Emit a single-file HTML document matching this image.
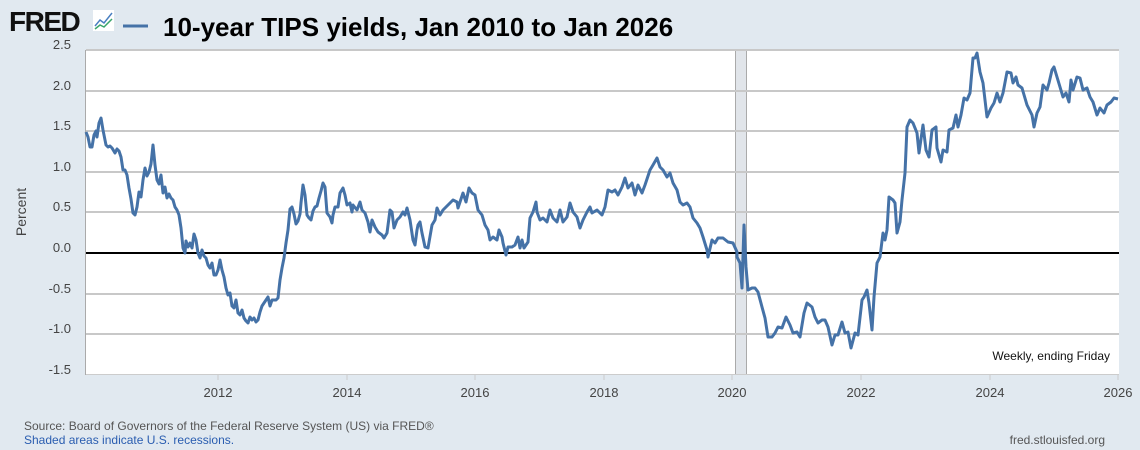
<!DOCTYPE html>
<html><head><meta charset="utf-8"><style>
body{margin:0;background:#e1e9f0;width:1140px;height:450px;overflow:hidden;font-family:"Liberation Sans",sans-serif}
</style></head><body>
<svg width="1140" height="450" xmlns="http://www.w3.org/2000/svg" style="position:absolute;left:0;top:0">
<rect width="1140" height="450" fill="#e1e9f0"/>
<text x="9" y="31" font-family="Liberation Sans" font-weight="bold" font-size="28" fill="#111" letter-spacing="-1.5">FRED</text>
<rect x="93" y="10" width="21" height="21" fill="#fff"/>
<polyline points="95,26 100,20 104,23 112,13" fill="none" stroke="#4a7fc1" stroke-width="1.5"/>
<polyline points="95,29 100,25 104,27 112,19" fill="none" stroke="#3aa56b" stroke-width="1.5"/>
<line x1="123" y1="26" x2="148" y2="26" stroke="#4572a7" stroke-width="3"/>
<text x="163" y="36" font-weight="bold" font-size="26" fill="#000">10-year TIPS yields, Jan 2010 to Jan 2026</text>
<rect x="86" y="50" width="1033" height="324" fill="#fff"/>
<rect x="735" y="50" width="11" height="324" fill="#e1e5ea"/>
<line x1="735.5" y1="50" x2="735.5" y2="374" stroke="#aaa"/>
<line x1="746.5" y1="50" x2="746.5" y2="374" stroke="#aaa"/>
<g stroke="#c8c8c8" stroke-width="2">
<line x1="86" y1="50" x2="1119" y2="50"/>
<line x1="86" y1="91" x2="1119" y2="91"/>
<line x1="86" y1="131" x2="1119" y2="131"/>
<line x1="86" y1="172" x2="1119" y2="172"/>
<line x1="86" y1="212" x2="1119" y2="212"/>
<line x1="86" y1="294" x2="1119" y2="294"/>
<line x1="86" y1="334" x2="1119" y2="334"/>
</g>
<line x1="85.5" y1="50" x2="85.5" y2="375" stroke="#aaa"/>
<line x1="86" y1="374.5" x2="1119" y2="374.5" stroke="#ccc"/>
<g stroke="#ccc"><line x1="218" y1="375" x2="218" y2="380"/><line x1="347" y1="375" x2="347" y2="380"/><line x1="475" y1="375" x2="475" y2="380"/><line x1="604" y1="375" x2="604" y2="380"/><line x1="732" y1="375" x2="732" y2="380"/><line x1="861" y1="375" x2="861" y2="380"/><line x1="990" y1="375" x2="990" y2="380"/><line x1="1118" y1="375" x2="1118" y2="380"/></g>
<line x1="86" y1="253" x2="1119" y2="253" stroke="#000" stroke-width="2"/>
<g font-size="13" fill="#444" text-anchor="end">
<text x="71" y="49">2.5</text><text x="71" y="90">2.0</text><text x="71" y="130">1.5</text><text x="71" y="171">1.0</text><text x="71" y="211">0.5</text><text x="71" y="252">0.0</text><text x="71" y="293">-0.5</text><text x="71" y="333">-1.0</text><text x="71" y="374">-1.5</text>
</g>
<text transform="translate(26,212) rotate(-90)" font-size="14" fill="#444" text-anchor="middle">Percent</text>
<g font-size="13" fill="#444" text-anchor="middle">
<text x="218" y="397">2012</text><text x="347" y="397">2014</text><text x="475" y="397">2016</text><text x="604" y="397">2018</text><text x="732" y="397">2020</text><text x="861" y="397">2022</text><text x="990" y="397">2024</text><text x="1118" y="397">2026</text>
</g>
<text x="1110" y="360" font-size="12" fill="#111" text-anchor="end">Weekly, ending Friday</text>
<polyline fill="none" stroke="#4572a7" stroke-width="3" stroke-linejoin="round" points="86,132 88,137 90,147 92,147 94,135 96,131 97,137 99,123 101,118 103,130 106,145 108,147 110,146 112,148 115,153 117,149 119,151 121,157 123,170 125,170 127,175 129,188 131,199 133,213 135,215 137,207 139,192 141,197 143,180 145,168 147,176 149,172 151,164 153,145 155,165 157,180 159,184 161,175 163,193 165,187 167,198 169,194 171,198 173,200 175,207 177,210 179,215 181,228 183,248 185,253 186,241 188,247 190,243 192,248 194,234 196,240 198,253 200,258 202,250 204,256 206,258 208,265 210,268 212,263 214,275 216,275 218,270 220,260 222,270 224,277 226,288 228,295 230,293 232,306 234,308 236,300 238,313 240,315 242,310 244,318 246,321 248,323 250,317 252,320 254,318 256,322 258,320 260,312 262,306 264,303 266,300 268,297 270,306 272,300 274,300 276,300 278,298 280,280 282,268 284,258 286,243 288,230 290,209 292,207 294,214 296,224 298,221 300,214 301,203 303,185 305,195 307,215 309,218 311,220 313,211 315,207 317,206 319,198 321,191 323,183 325,187 327,213 330,217 332,223 333,215 335,207 338,207 340,193 343,188 345,195 347,205 350,203 352,212 353,205 357,210 360,202 362,210 365,213 368,222 370,232 372,220 375,227 378,232 382,235 384,238 387,233 390,210 392,212 394,228 397,220 400,217 403,212 405,215 407,208 410,220 413,240 415,245 417,230 418,225 420,222 422,233 425,247 428,248 432,225 435,220 437,208 440,215 443,210 448,205 453,200 457,202 458,208 463,193 466,202 469,188 472,193 475,195 478,210 482,215 485,225 488,230 490,240 493,237 497,240 499,230 502,237 503,243 506,255 508,247 512,247 515,245 518,237 520,248 522,240 524,248 528,242 530,218 533,212 536,202 537,212 540,220 543,218 547,222 550,210 553,218 557,222 560,210 563,222 567,217 570,203 573,212 577,217 580,228 583,220 587,212 590,207 592,213 597,210 602,215 605,207 608,190 612,192 615,190 618,195 622,187 625,178 628,188 632,183 635,195 638,185 642,193 645,185 650,170 653,165 657,158 660,167 663,170 667,177 670,173 673,183 677,190 680,202 683,205 687,203 690,207 693,218 697,223 700,228 703,237 707,250 708,257 712,240 715,243 718,238 723,238 728,242 733,243 737,252 737,257 740,263 742,288 744,225 746,267 748,290 752,288 755,288 758,292 762,307 765,318 768,337 772,337 775,333 778,327 782,328 786,317 790,325 793,333 797,332 800,337 804,313 807,303 812,307 815,317 818,323 822,320 825,320 828,327 832,345 835,335 838,335 842,322 845,333 848,332 851,348 855,333 858,335 862,300 864,297 867,290 869,303 872,330 874,297 877,263 880,257 883,233 885,240 887,230 889,197 893,200 895,203 897,233 900,222 902,200 905,173 907,127 910,120 913,123 917,133 919,153 923,125 926,150 929,157 932,130 936,127 937,148 941,162 943,150 947,152 949,130 953,128 956,115 958,127 961,115 964,98 967,100 970,93 973,58 975,58 977,53 980,72 983,83 987,117 991,108 994,103 997,93 1000,102 1003,93 1007,72 1011,73 1013,83 1016,77 1018,85 1022,88 1027,105 1032,115 1034,127 1037,113 1040,107 1043,85 1047,90 1049,83 1052,70 1054,67 1057,77 1060,87 1063,97 1066,93 1069,102 1071,80 1073,90 1077,77 1080,78 1083,90 1087,88 1090,97 1093,102 1097,115 1100,108 1104,113 1107,105 1111,102 1114,98 1118,99"/>
<text x="24" y="430" font-size="12" fill="#555">Source: Board of Governors of the Federal Reserve System (US) via FRED®</text>
<text x="24" y="444" font-size="12" fill="#2a5db0">Shaded areas indicate U.S. recessions.</text>
<text x="1105" y="444" font-size="12" fill="#555" text-anchor="end">fred.stlouisfed.org</text>
</svg>
</body></html>
